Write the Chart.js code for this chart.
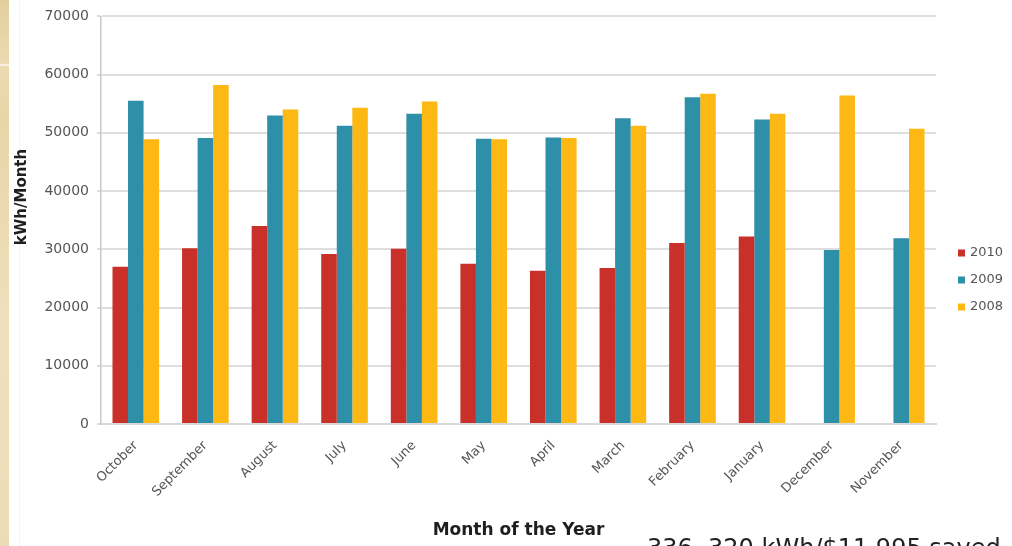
<!DOCTYPE html>
<html>
<head>
<meta charset="utf-8">
<script src="https://cdn.jsdelivr.net/npm/chart.js@4.4.1/dist/chart.umd.min.js"></script>
<style>
  html, body { margin: 0; padding: 0; background: #ffffff; overflow: hidden; width: 1012px; height: 546px; }
  #wrap { position: relative; width: 1012px; height: 546px; overflow: hidden; }
  #strip { position: absolute; left: 0; top: 0; width: 9px; height: 546px;
    background: linear-gradient(180deg, #e3cf9e 0%, #ecdab0 12%, #e8d5a8 22%, #efe0bc 60%, #ecdcb6 100%); }
  #hl { position: absolute; left: 0; top: 64px; width: 9px; height: 2px; background: rgba(255,255,255,0.6); }
  #edge { position: absolute; left: 19px; top: 0; width: 1px; height: 546px; background: #f3f3f3; }
  #chart { position: absolute; left: 0; top: 0; }
  #caption { position: absolute; left: 647px; top: 536px; font-family: "DejaVu Sans", Verdana, sans-serif;
    font-size: 24px; line-height: 24px; color: #222; white-space: nowrap; }
</style>
</head>
<body>
<div id="wrap">
  <div id="strip"></div>
  <div id="hl"></div>
  <div id="edge"></div>
  <canvas id="chart" width="1012" height="546"></canvas>
  <div id="caption">336, 320 kWh/$11,995 saved</div>
</div>
<script>
const categories = ['October', 'September', 'August', 'July', 'June', 'May', 'April', 'March', 'February', 'January', 'December', 'November'];
const seriesNames = ['2010', '2009', '2008'];
const values2010 = [27000, 30200, 34000, 29200, 30100, 27500, 26300, 26800, 31100, 32200, null, null];
const values2009 = [55500, 49100, 53000, 51200, 53300, 49000, 49200, 52500, 56100, 52300, 29900, 31900];
const values2008 = [48900, 58200, 54000, 54300, 55400, 48900, 49100, 51200, 56700, 53300, 56400, 50700];
const yTickValues = [0, 10000, 20000, 30000, 40000, 50000, 60000, 70000];
const yTitle = 'kWh/Month';
const xTitle = 'Month of the Year';

const colors = ['#c9302a', '#2d8fa8', '#fdb813'];
const FONT = '"DejaVu Sans", Verdana, sans-serif';

const extras = {
  id: 'extras',
  afterDraw(chart) {
    const ctx = chart.ctx;
    ctx.save();
    ctx.fillStyle = '#1e1e1e';
    ctx.font = 'bold 15px ' + FONT;
    ctx.textAlign = 'center';
    ctx.textBaseline = 'middle';
    ctx.translate(22, 197);
    ctx.rotate(-Math.PI / 2);
    ctx.fillText(yTitle, 0, 0);
    ctx.setTransform(1, 0, 0, 1, 0, 0);
    ctx.font = 'bold 17px ' + FONT;
    ctx.textAlign = 'center';
    ctx.textBaseline = 'middle';
    ctx.fillText(xTitle, (chart.chartArea.left + chart.chartArea.right) / 2, 531);
    ctx.font = '13px ' + FONT;
    ctx.textAlign = 'left';
    chart.data.datasets.forEach((ds, i) => {
      const cy = 253 + i * 27;
      ctx.fillStyle = ds.backgroundColor;
      ctx.fillRect(958, cy - 3.5, 7, 7);
      ctx.fillStyle = '#555';
      ctx.fillText(ds.label, 970, cy);
    });
    ctx.restore();
  }
};

new Chart(document.getElementById('chart'), {
  type: 'bar',
  data: {
    labels: categories,
    datasets: [
      { label: seriesNames[0], data: values2010, backgroundColor: colors[0] },
      { label: seriesNames[1], data: values2009, backgroundColor: colors[1] },
      { label: seriesNames[2], data: values2008, backgroundColor: colors[2] }
    ]
  },
  options: {
    responsive: false,
    animation: false,
    devicePixelRatio: 1,
    layout: { padding: { top: 13, right: 76, left: 0, bottom: 0 } },
    datasets: { bar: { categoryPercentage: 0.67, barPercentage: 1.0, borderWidth: 0 } },
    plugins: { legend: { display: false }, tooltip: { enabled: false } },
    scales: {
      x: {
        grid: { display: false },
        border: { display: true, color: '#d9d9d9', width: 2 },
        ticks: { maxRotation: 45, minRotation: 45, color: '#555', font: { family: FONT, size: 13 }, padding: 6, autoSkip: false },
        afterFit: s => { s.height = 122; }
      },
      y: {
        min: 0, max: 70000,
        afterBuildTicks: s => { s.ticks = yTickValues.map(v => ({ value: v })); },
        ticks: { color: '#555', font: { family: FONT, size: 14 }, padding: 8, callback: v => String(v) },
        grid: { color: '#dedede', lineWidth: 2, tickLength: 4 },
        border: { color: '#c8c8c8', width: 1.5 },
        afterFit: s => { s.width = 101; }
      }
    }
  },
  plugins: [extras]
});
</script>
</body>
</html>
